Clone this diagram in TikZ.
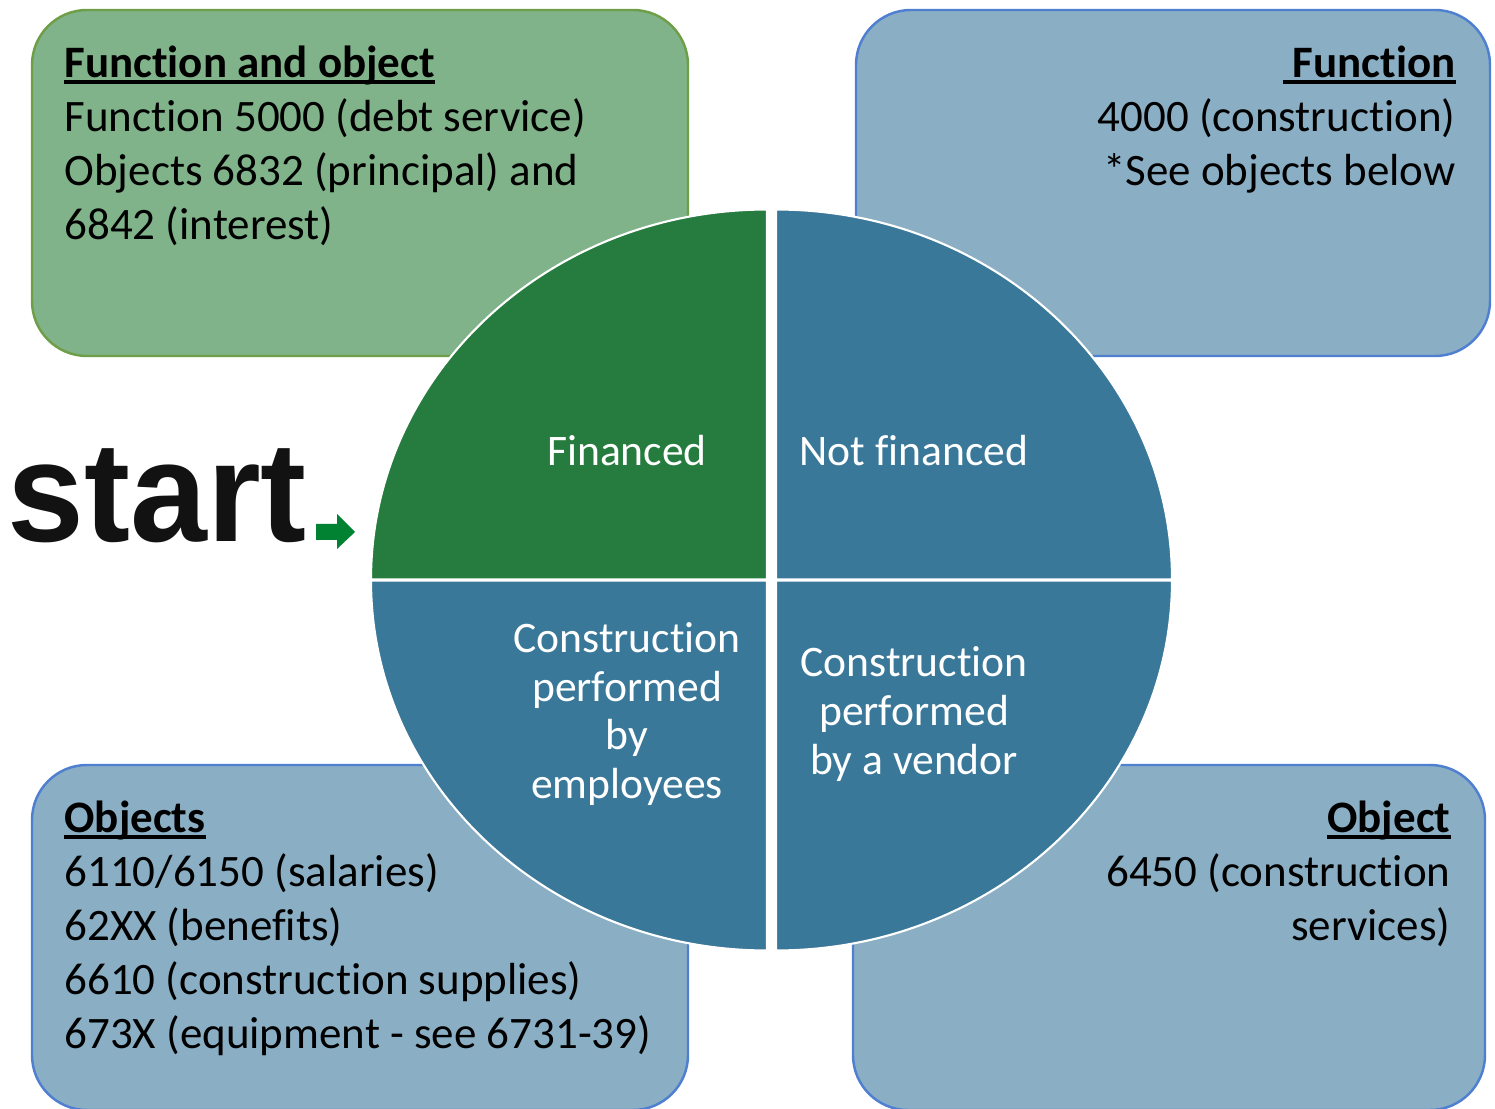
\documentclass[tikz,border=0pt]{standalone}
\usepackage{fontspec}
\setmainfont{Carlito}[Ligatures=NoCommon]
\newfontfamily\startfont{Liberation Sans}
\usepackage{tikz}
\usetikzlibrary{positioning}
\definecolor{boxgreen}{HTML}{80B38A}
\definecolor{edgegreen}{HTML}{6F9E48}
\definecolor{boxblue}{HTML}{8AAFC5}
\definecolor{edgeblue}{HTML}{4F7FD0}
\definecolor{piegreen}{HTML}{267C3E}
\definecolor{pieblue}{HTML}{3A7899}
\definecolor{arrowgreen}{HTML}{008232}
\newcommand{\headul}[1]{\setbox0\hbox{\textbf{#1}}\rlap{\rule[-0.14em]{\wd0}{0.07em}}\box0}
\tikzset{infobox/.style={rectangle, rounded corners=0.55cm, line width=0.7pt, inner sep=0pt},
greenbox/.style={infobox, draw=edgegreen, fill=boxgreen},
bluebox/.style={infobox, draw=edgeblue, fill=boxblue},
boxtext/.style={inner sep=0pt, font=\fontsize{12.8}{15.36}\selectfont},
slice/.style={draw=white, line width=0.6pt},
pietext/.style={inner sep=0pt, text=white, align=center, font=\fontsize{12.4}{13.9}\selectfont},}

\begin{document}
\begin{tikzpicture}
\useasboundingbox (0,0) rectangle (14.95,11.08);
\node [greenbox, minimum width=6.56cm, minimum height=3.46cm] (fo) at (3.60,9.25) {};
\node [bluebox, minimum width=6.34cm, minimum height=3.46cm] (fn) at (11.73,9.25) {};
\node [bluebox, minimum width=6.56cm, minimum height=3.45cm] (objs) at (3.60,1.705) {};
\node [bluebox, minimum width=6.32cm, minimum height=3.45cm] (obj) at (11.69,1.705) {};
\node [boxtext, align=left, below right=0.30cm and 0.33cm of fo.north west] (fotext) {\strut\headul{Function and object}\\Function 5000 (debt service)\\Objects 6832 (principal) and\\6842 (interest)};
\node [boxtext, align=right, below left=0.30cm and 0.35cm of fn.north east] (fntext) {\strut\headul{\ Function}\\4000 (construction)\\*See objects below};
\node [boxtext, align=left, below right=0.30cm and 0.33cm of objs.north west] (objstext) {\strut\headul{Objects}\\6110/6150 (salaries)\\62XX (benefits)\\6610 (construction supplies)\\673X (equipment - see 6731-39)};
\node [boxtext, align=right, below left=0.30cm and 0.35cm of obj.north east] (objtext) {\strut\headul{Object}\\6450 (construction\\services)};
\filldraw [fill=piegreen, slice] (7.67,5.285) -- ++(0,3.70) arc[start angle=90, end angle=180, x radius=3.96cm, y radius=3.70cm] -- cycle;
\filldraw [fill=pieblue, slice] (7.76,5.285) -- ++(3.96,0) arc[start angle=0, end angle=90, x radius=3.96cm, y radius=3.70cm] -- cycle;
\filldraw [fill=pieblue, slice] (7.67,5.275) -- ++(-3.96,0) arc[start angle=180, end angle=270, x radius=3.96cm, y radius=3.70cm] -- cycle;
\filldraw [fill=pieblue, slice] (7.76,5.275) -- ++(0,-3.70) arc[start angle=270, end angle=360, x radius=3.96cm, y radius=3.70cm] -- cycle;
\node [pietext] (fin) at (6.27,6.57) {Financed};
\node [pietext] (notfin) at (9.14,6.57) {Not financed};
\node [pietext] (emp) at (6.27,3.94) {Construction\\performed\\by\\employees};
\node [pietext] (vendor) at (9.14,3.94) {Construction\\performed\\by a vendor};
\node [inner sep=0pt, anchor=base west, text=black!93, font=\startfont\bfseries\fontsize{40.5}{44}\selectfont] (start) at (0.07,5.66) {\scalebox{0.97}[1]{start}};
\fill [arrowgreen] (3.16,5.84) -- (3.37,5.84) -- (3.37,5.94) -- (3.55,5.76) -- (3.37,5.59) -- (3.37,5.68) -- (3.16,5.68) -- cycle;
\end{tikzpicture}
\end{document}
